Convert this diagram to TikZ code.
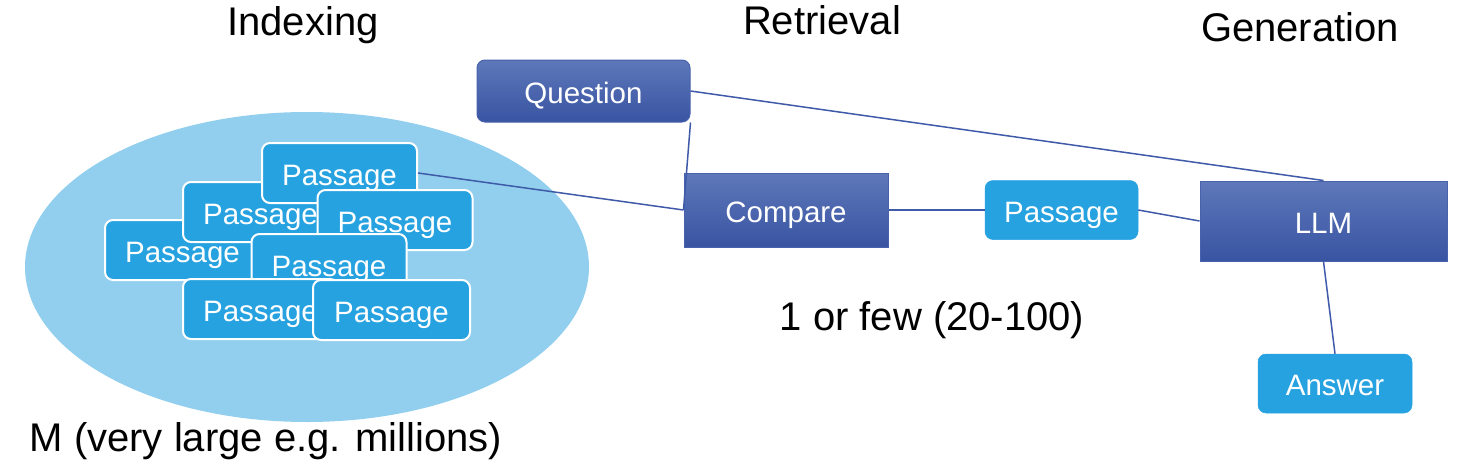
\documentclass[tikz,border=0pt]{standalone}
\usepackage{fontspec}
\setmainfont{Liberation Sans}
\definecolor{ellblue}{RGB}{146,207,238}
\definecolor{passblue}{RGB}{39,162,224}
\definecolor{darktop}{RGB}{94,120,186}
\definecolor{darkbot}{RGB}{57,84,162}
\definecolor{darkedge}{RGB}{72,98,172}
\definecolor{linkblue}{RGB}{63,90,168}
\tikzset{
  titletext/.style={font=\fontsize{40}{46}\selectfont, anchor=base, inner sep=0pt},
  passbox/.style={draw=white, line width=2pt, fill=passblue, rounded corners=8pt,
     minimum width=155pt, minimum height=60pt, inner sep=0pt, text=white,
     font=\fontsize{29.5}{34}\selectfont, text height=24.6pt, text depth=0pt},
  respass/.style={passbox, draw=passblue, line width=0.5pt},
  darkbox/.style={draw=darkedge, line width=1pt, top color=darktop, bottom color=darkbot,
     inner sep=0pt, text=white, font=\fontsize{29.5}{34}\selectfont,
     text height=24.6pt, text depth=0pt},
  link/.style={draw=linkblue, line width=1.5pt}
}
\begin{document}
\begin{tikzpicture}[x=1pt,y=-1pt]
\useasboundingbox (0,0) rectangle (1464,471);
% titles
\node[titletext] (tidx) at (303,35) {Indexing};
\node[titletext] (tret) at (822,34) {Retrieval};
\node[titletext] (tgen) at (1300,41) {Generation};
% corpus ellipse
\fill[ellblue] (307,267) ellipse [x radius=282, y radius=155];
% passages in corpus
\node[passbox] (p4) at (182.5,250) {Passage};
\node[passbox] (p2) at (260.5,212) {Passage};
\node[passbox] (p1) at (339.5,173) {Passage};
\node[passbox] (p3) at (395,220) {Passage};
\node[passbox] (p5) at (329,264) {Passage};
\node[passbox] (p6) at (260.5,309) {Passage};
\node[passbox, minimum width=157pt] (p7) at (391.5,310) {Passage};
% retrieval / generation nodes
\node[darkbox, rounded corners=8pt, minimum width=213pt, minimum height=62pt] (q) at (583.5,91) {Question};
\node[darkbox, minimum width=204pt, minimum height=74pt] (cmp) at (786,210) {Compare};
\node[respass, minimum width=153pt, minimum height=59pt] (rp) at (1061.5,210) {Passage};
\node[darkbox, minimum width=247pt, minimum height=80pt] (llm) at (1323.5,221) {LLM};
\node[respass, minimum width=154pt, minimum height=59pt] (ans) at (1335,383.5) {Answer};
% labels
\node[titletext] (few) at (932,330) {1 or few (20-100)};
\node[titletext] (mlab) at (266,451) {M (very large e.g. millions)};
% connectors
\draw[link] (p1.east) -- (cmp.west);
\draw[link] (q.east) -- (llm.north);
\draw[link] (q.south east) -- (cmp.west);
\draw[link] (cmp.east) -- (rp.west);
\draw[link] (rp.east) -- (llm.west);
\draw[link] (llm.south) -- (ans.north);
\end{tikzpicture}
\end{document}
